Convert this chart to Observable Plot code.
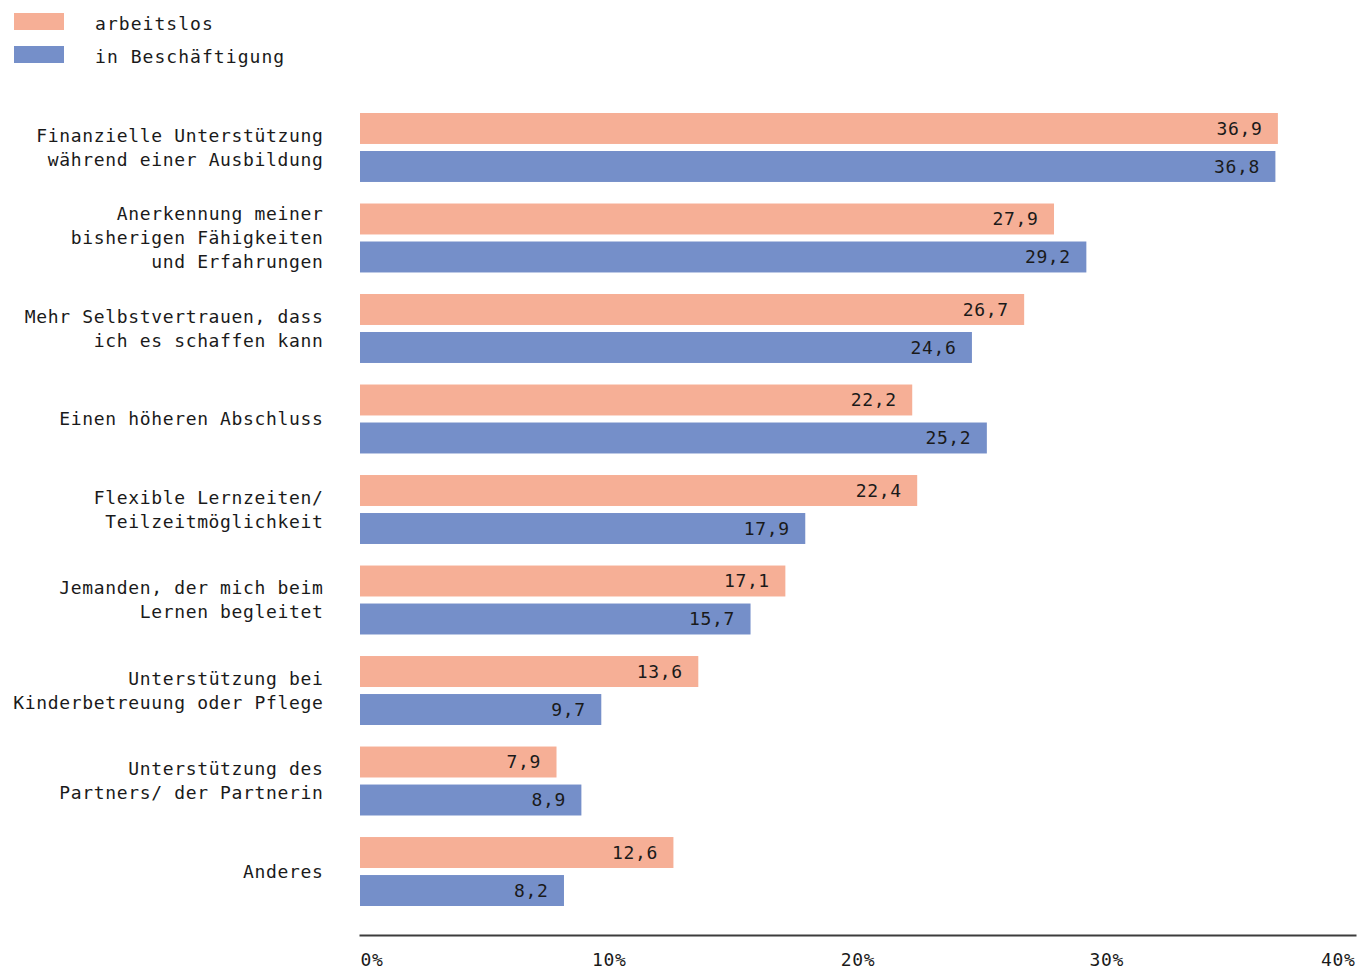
<!DOCTYPE html>
<html>
<head>
<meta charset="utf-8">
<script src="https://cdn.jsdelivr.net/npm/d3@7"></script>
<script src="https://cdn.jsdelivr.net/npm/@observablehq/plot@0.6"></script>
<style>
  html, body { margin: 0; padding: 0; background: #fff; }
  #wrap { position: relative; width: 1370px; height: 971px; }
  #legend { position: absolute; left: 0; top: 0; font-family: "DejaVu Sans Mono", monospace; font-size: 18px; letter-spacing: 1.05px; color: #1a1a1a; }
  .item { position: absolute; left: 14px; height: 17px; white-space: nowrap; }
  .sw { position: absolute; left: 0; top: 0; width: 50px; height: 17px; }
  .lab { position: absolute; left: 81px; top: 0px; line-height: 22px; }
  svg text { letter-spacing: 0.65px; }
</style>
</head>
<body>
<div id="wrap">
  <div id="legend"></div>
  <div id="chart"></div>
</div>
<script>
const categories = [
  "Finanzielle Unterstützung\nwährend einer Ausbildung",
  "Anerkennung meiner\nbisherigen Fähigkeiten\nund Erfahrungen",
  "Mehr Selbstvertrauen, dass\nich es schaffen kann",
  "Einen höheren Abschluss",
  "Flexible Lernzeiten/\nTeilzeitmöglichkeit",
  "Jemanden, der mich beim\nLernen begleitet",
  "Unterstützung bei\nKinderbetreuung oder Pflege",
  "Unterstützung des\nPartners/ der Partnerin",
  "Anderes"
];
const seriesNames = ["arbeitslos", "in Beschäftigung"];
const arbeitslos = [36.9, 27.9, 26.7, 22.2, 22.4, 17.1, 13.6, 7.9, 12.6];
const beschaeftigt = [36.8, 29.2, 24.6, 25.2, 17.9, 15.7, 9.7, 8.9, 8.2];
const colors = ["#F6AF96", "#758FC9"];
const xTicks = [0, 10, 20, 30, 40];

const dataA = categories.map((c, i) => ({cat: c, value: arbeitslos[i]}));
const dataB = categories.map((c, i) => ({cat: c, value: beschaeftigt[i]}));
const fmt = v => d3.format(".1f")(v).replace(".", ",");

// legend
const legend = document.getElementById("legend");
seriesNames.forEach((name, i) => {
  const it = document.createElement("div");
  it.className = "item";
  it.style.top = (13 + i * 33) + "px";
  it.innerHTML = `<div class="sw" style="background:${colors[i]}"></div><div class="lab">${name}</div>`;
  legend.appendChild(it);
});

const tickFmt = d => d + "%";
const axisOpts = {tickSize: 0, tickPadding: 18, tickFormat: tickFmt, fontSize: 18, fill: "#1a1a1a", label: null};

const chart = Plot.plot({
  width: 1370,
  height: 971,
  marginLeft: 360,
  marginRight: 15,
  marginTop: 113,
  marginBottom: 36,
  style: {fontFamily: "DejaVu Sans Mono, monospace", fontSize: "18px", color: "#1a1a1a", background: "transparent"},
  x: {domain: [0, 40], axis: null},
  y: {domain: categories, paddingInner: 0.238, paddingOuter: 0, insetBottom: 29, round: false, axis: null},
  marks: [
    Plot.barX(dataA, {y: "cat", x: "value", fill: colors[0], insetBottom: 38}),
    Plot.barX(dataB, {y: "cat", x: "value", fill: colors[1], insetTop: 38}),
    Plot.text(dataA, {y: "cat", x: "value", text: d => fmt(d.value), textAnchor: "end", dx: -16, dy: -19, fill: "#1a1a1a"}),
    Plot.text(dataB, {y: "cat", x: "value", text: d => fmt(d.value), textAnchor: "end", dx: -16, dy: 19, fill: "#1a1a1a"}),
    Plot.text(categories, {y: d => d, text: d => d, frameAnchor: "left", textAnchor: "end", dx: -37, dy: -2, lineAnchor: "middle", lineHeight: 1.333, fill: "#1a1a1a"}),
    Plot.frame({anchor: "bottom", stroke: "#3c3c3c", strokeWidth: 2}),
    Plot.axisX([xTicks[0]], {...axisOpts, textAnchor: "start"}),
    Plot.axisX(xTicks.slice(1, -1), {...axisOpts}),
    Plot.axisX([xTicks[xTicks.length - 1]], {...axisOpts, textAnchor: "end"})
  ]
});
document.getElementById("chart").appendChild(chart);
</script>
</body>
</html>
